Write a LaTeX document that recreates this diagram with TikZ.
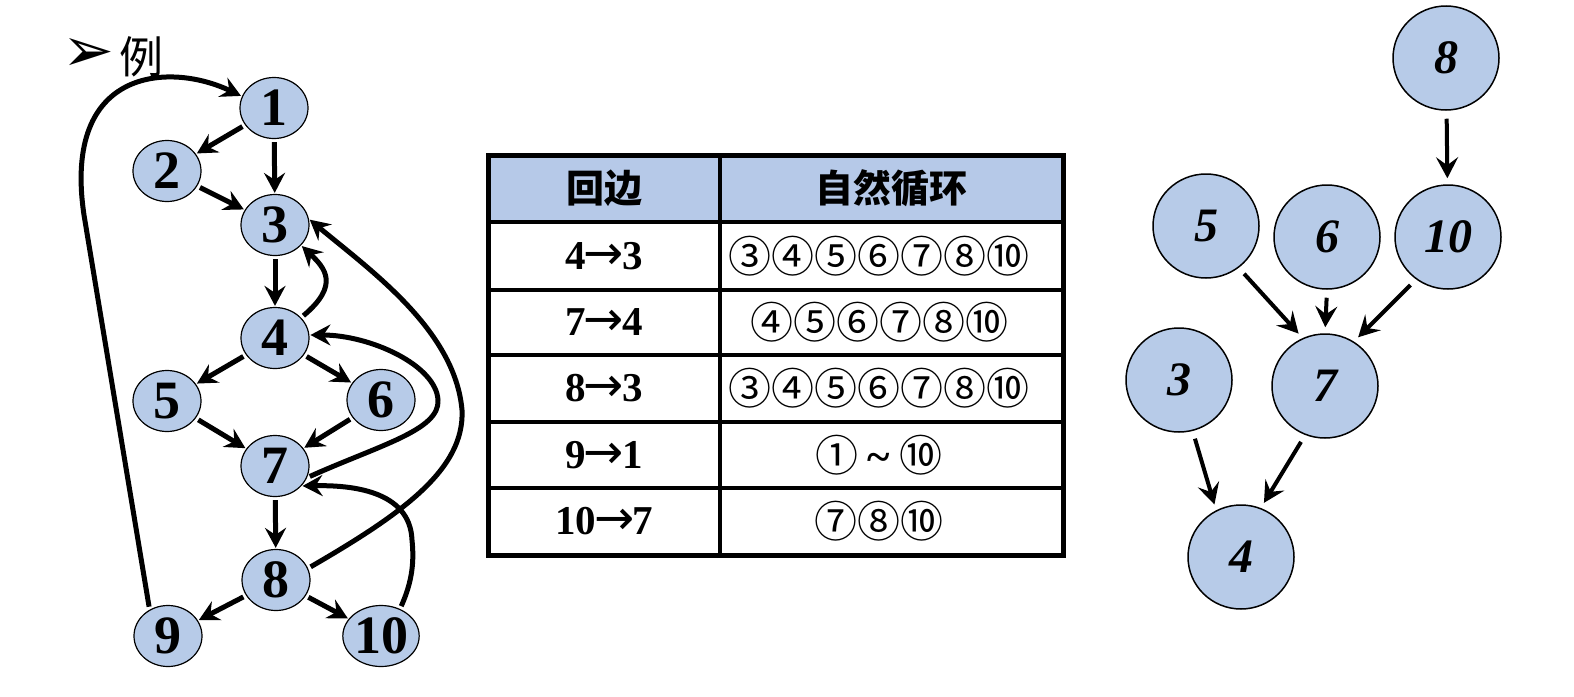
\documentclass[tikz,border=0pt]{standalone}
\usepackage{fontspec}
\usetikzlibrary{shapes.geometric,arrows.meta}
\setmainfont{Liberation Serif}
\newfontfamily\cjk{Noto Sans CJK SC}
\newfontfamily\dejavu{DejaVu Sans}
\definecolor{nodeblue}{RGB}{183,203,232}
\definecolor{headblue}{RGB}{182,201,232}
\newcommand{\rarr}{{\dejavu\mdseries\fontsize{48}{48}\selectfont\kern-2pt→\kern-2pt}}
\tikzset{
  vtx/.style={ellipse, draw=black, line width=1.2pt, fill=nodeblue,
    minimum width=68pt, minimum height=61pt, inner sep=0pt,
    font=\bfseries\fontsize{54}{54}\selectfont},
  bigvtx/.style={ellipse, draw=black, line width=1.5pt, fill=nodeblue,
    minimum width=106pt, minimum height=104pt, inner sep=0pt,
    font=\bfseries\itshape\fontsize{48}{48}\selectfont},
  edge/.style={line width=5pt, -{Stealth[length=20pt,width=21pt,inset=7pt]},
    shorten <=3pt, shorten >=1pt},
  redge/.style={line width=4pt, -{Stealth[length=21pt,width=22pt,inset=8pt]},
    shorten <=8pt, shorten >=6pt},
  rowtxt/.style={font=\bfseries\fontsize{41}{41}\selectfont, inner sep=0pt},
  cjktxt/.style={font=\cjk\bfseries\fontsize{38}{38}\selectfont, inner sep=0pt},
  circtxt/.style={font=\cjk\fontsize{43}{43}\selectfont, inner sep=0pt},
  tline/.style={line width=3.5pt},
}
\begin{document}
\begin{tikzpicture}[x=1pt,y=1pt]
\useasboundingbox (0,0) rectangle (1574,-696);
% bullet
\node[font=\dejavu\fontsize{62}{62}\selectfont, inner sep=0pt] (bul) at (88,-55) {➢};
\node[font=\cjk\fontsize{44}{44}\selectfont, inner sep=0pt] (li) at (141,-57) {例};
% left graph nodes
\node[vtx] (n1) at (274,-108) {1};
\node[vtx] (n2) at (167,-171) {2};
\node[vtx] (n3) at (275,-225) {3};
\node[vtx] (n4) at (275,-338) {4};
\node[vtx] (n5) at (167,-401) {5};
\node[vtx] (n6) at (381,-400) {6};
\node[vtx] (n7) at (275,-466) {7};
\node[vtx] (n8) at (276,-580) {8};
\node[vtx] (n9) at (168,-636) {9};
\node[vtx] (n10) at (381,-636) {10};
% left edges
\draw[edge] (n1) -- (n2);
\draw[edge] (n1) -- (n3);
\draw[edge] (n2) -- (n3);
\draw[edge] (n3) -- (n4);
\draw[edge] (n4) -- (n5);
\draw[edge] (n4) -- (n6);
\draw[edge] (n5) -- (n7);
\draw[edge] (n6) -- (n7);
\draw[edge] (n7) -- (n8);
\draw[edge] (n8) -- (n9);
\draw[edge] (n8) -- (n10);
% back edges
\draw[edge] (n4.38) .. controls (340,-285) and (325,-268) .. (n3.-38);
\draw[edge] (n7.-20) .. controls (380,-445) and (440,-430) .. (438,-400)
   .. controls (436,-365) and (370,-335) .. (n4.5);
\draw[edge] (n8.20) .. controls (400,-515) and (465,-470) .. (462,-410)
   .. controls (455,-330) and (370,-270) .. (n3.10);
\draw[edge] (n9.125) -- (84,-215) .. controls (62,-67) and (170,-62) .. (n1.160);
\draw[edge] (n10.55) .. controls (413,-580) and (414,-560) .. (412,-540)
   .. controls (410,-490) and (350,-485) .. (n7.-37);
% table
\fill[headblue] (488,-155) rectangle (1063,-222);
\draw[tline] (488,-222) -- (1063,-222);
\draw[tline] (488,-290) -- (1063,-290);
\draw[tline] (488,-355) -- (1063,-355);
\draw[tline] (488,-422) -- (1063,-422);
\draw[tline] (488,-488) -- (1063,-488);
\draw[tline] (720,-155) -- (720,-555);
\draw[line width=5pt] (488,-155) rectangle (1063,-555);
\node[cjktxt] (h1) at (604,-188) {回边};
\node[cjktxt] (h2) at (891,-188) {自然循环};
\node[rowtxt] (a1) at (604,-256) {4\rarr3};
\node[rowtxt] (a2) at (604,-322) {7\rarr4};
\node[rowtxt] (a3) at (604,-388) {8\rarr3};
\node[rowtxt] (a4) at (604,-455) {9\rarr1};
\node[rowtxt] (a5) at (604,-521) {10\rarr7};
\node[circtxt] (b1) at (879,-256) {③④⑤⑥⑦⑧⑩};
\node[circtxt] (b2) at (879,-322) {④⑤⑥⑦⑧⑩};
\node[circtxt] (b3) at (879,-388) {③④⑤⑥⑦⑧⑩};
\node[circtxt] (b4) at (879,-455) {① {\rmfamily\bfseries\textasciitilde} ⑩};
\node[circtxt] (b5) at (879,-521) {⑦⑧⑩};
% right tree
\node[bigvtx] (r8) at (1446,-58) {8};
\node[bigvtx] (r10) at (1448,-237) {10};
\node[bigvtx] (r5) at (1206,-226) {5};
\node[bigvtx] (r6) at (1327,-237) {6};
\node[bigvtx] (r3) at (1179,-380) {3};
\node[bigvtx] (r7) at (1325,-386) {7};
\node[bigvtx] (r4) at (1241,-557) {4};
\draw[redge] (r8) -- (r10);
\draw[redge] (r5.-52) -- (r7.115);
\draw[redge] (r6.-90) -- (r7.90);
\draw[redge] (r10.-127) -- (r7.57);
\draw[redge] (r3.-75) -- (r4.118);
\draw[redge] (r7.-112) -- (r4.68);
\end{tikzpicture}
\end{document}
